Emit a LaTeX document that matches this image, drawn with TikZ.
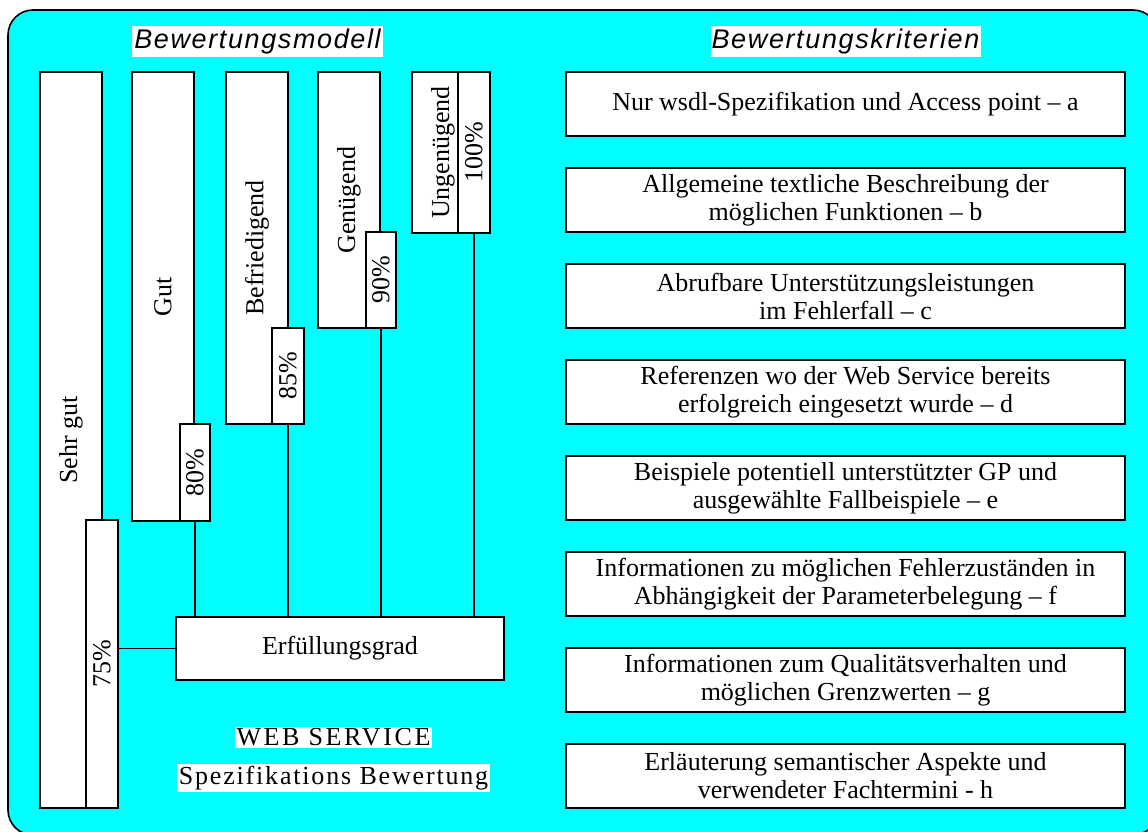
\documentclass[tikz,border=0pt]{standalone}
\usepackage{fontspec}
\setmainfont{Liberation Serif}
\newfontfamily\titlefont[LetterSpace=6]{Liberation Sans}
\newfontfamily\wideA[LetterSpace=10]{Liberation Serif}
\newfontfamily\wideB[LetterSpace=7]{Liberation Serif}
\begin{document}
\begin{tikzpicture}[x=1pt,y=-1pt,
  every node/.style={inner sep=0pt,outer sep=0pt},
  lw/.style={line width=1.6pt},
  txt/.style={font=\fontsize{26}{28}\selectfont},
  gbox/.style={lw,draw,fill=white,txt,rotate=90,minimum height=62pt},
  pbox/.style={lw,draw,fill=white,txt,rotate=90,minimum height=32pt},
  kbox/.style={lw,draw,fill=white,txt,align=center,minimum width=559pt,minimum height=64pt},
  ttl/.style={fill=white,font=\titlefont\itshape\fontsize{27}{29}\selectfont,minimum height=31pt},
  wtxt/.style={fill=white,inner xsep=2pt,inner ysep=2pt},
  conn/.style={lw,draw}]
\useasboundingbox (0,0) rectangle (1148,832);
\draw[lw,fill={rgb,255:red,0;green,255;blue,255},rounded corners=25pt] (8,10) rectangle (1158,835);

\node[ttl,minimum width=251pt] (t1) at (257.5,41.5) {Bewertungsmodell};
\node[ttl,minimum width=270pt] (t2) at (845.5,41.5) {Bewertungskriterien};

% grade boxes
\node[gbox,minimum width=736pt] (sg) at (71,440) {Sehr gut};
\node[pbox,minimum width=288pt] (p75) at (102,664) {75\%};
\node[gbox,minimum width=449pt] (gut) at (163,296.5) {Gut};
\node[pbox,minimum width=97pt,minimum height=30pt] (p80) at (195,472.5) {80\%};
\node[gbox,minimum width=352pt] (bef) at (257,248) {Befriedigend};
\node[pbox,minimum width=96pt] (p85) at (288,376) {85\%};
\node[gbox,minimum width=256pt] (gen) at (349,200) {Genügend};
\node[pbox,minimum width=96pt,minimum height=30pt] (p90) at (381,280) {90\%};
\node[gbox,minimum width=161pt] (ung) at (443,152.5) {Ungenügend};
\node[pbox,minimum width=161pt] (p100) at (474,152.5) {100\%};

\node[lw,draw,fill=white,txt,minimum width=328pt,minimum height=63pt] (erf) at (340,648.5) {Erfüllungsgrad};

\draw[conn] (p80.west) -- (p80.west |- erf.north);
\draw[conn] (p85.west) -- (p85.west |- erf.north);
\draw[conn] (p90.west) -- (p90.west |- erf.north);
\draw[conn] (p100.west) -- (p100.west |- erf.north);
\draw[conn] (erf.west) -- (erf.west -| p75.south);

\node[wtxt,font=\wideA\fontsize{26}{28}\selectfont] (ws1) at (333.5,737.5) {WEB SERVICE};
\node[wtxt,font=\wideB\fontsize{26}{28}\selectfont] (ws2) at (333.5,778) {Spezifikations Bewertung};

% criteria
\node[kbox] (ka) at (845.5,104) {Nur wsdl-Spezifikation und Access point – a};
\node[kbox] (kb) at (845.5,200) {Allgemeine textliche Beschreibung der\\möglichen Funktionen – b};
\node[kbox] (kc) at (845.5,296) {Abrufbare Unterstützungsleistungen\\im Fehlerfall – c};
\node[kbox] (kd) at (845.5,392) {Referenzen wo der Web Service bereits\\erfolgreich eingesetzt wurde – d};
\node[kbox] (ke) at (845.5,488) {Beispiele potentiell unterstützter GP und\\ausgewählte Fallbeispiele – e};
\node[kbox] (kf) at (845.5,584) {Informationen zu möglichen Fehlerzuständen in\\Abhängigkeit der Parameterbelegung – f};
\node[kbox] (kg) at (845.5,680) {Informationen zum Qualitätsverhalten und\\möglichen Grenzwerten – g};
\node[kbox] (kh) at (845.5,776) {Erläuterung semantischer Aspekte und\\verwendeter Fachtermini - h};
\end{tikzpicture}
\end{document}
